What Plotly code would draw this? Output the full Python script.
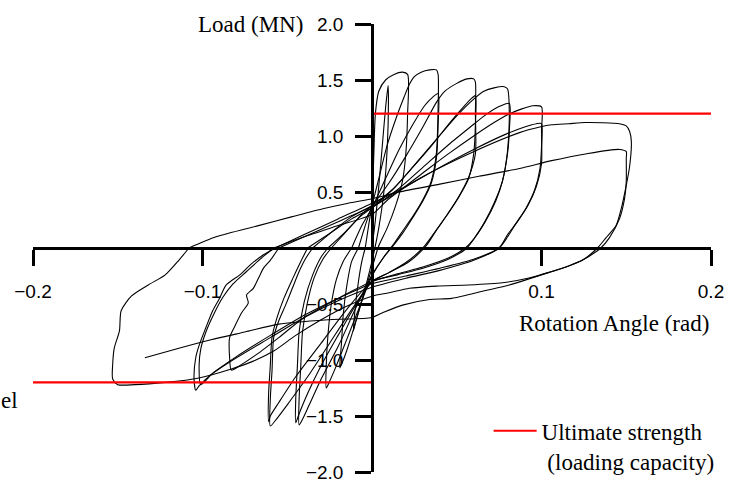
import plotly.graph_objects as go

# ---------------- data ----------------
x_ticks = [-0.2, -0.1, 0.1, 0.2]
x_tick_text = ["\u22120.2", "\u22120.1", "0.1", "0.2"]
y_ticks = [2.0, 1.5, 1.0, 0.5, -0.5, -1.0, -1.5, -2.0]
y_tick_text = ["2.0", "1.5", "1.0", "0.5", "\u22120.5", "\u22121.0", "\u22121.5", "\u22122.0"]

ultimate_pos_rot = [0.0, 0.2]
ultimate_pos_load = [1.2, 1.2]
ultimate_neg_rot = [-0.2, 0.0]
ultimate_neg_load = [-1.2, -1.2]

rot_1 = [0.000, 0.002, 0.004, 0.006, 0.008, 0.0095, 0.0097, 0.009, 0.007, 0.004, 0.001, -0.003, -0.007, -0.010, -0.011, -0.010, -0.008, -0.006, -0.004]
load_1 = [0.00, 0.25, 0.55, 0.90, 1.25, 1.45, 1.30, 0.90, 0.50, 0.18, -0.05, -0.30, -0.52, -0.68, -0.74, -0.55, -0.30, -0.12, 0.00]

rot_2 = [-0.004, -0.002, 0.000, 0.001, 0.002, 0.004, 0.008, 0.013, 0.018, 0.021, 0.021, 0.020, 0.018, 0.014, 0.009, 0.004, 0.000, -0.005, -0.010, -0.015, -0.018, -0.019, -0.018, -0.017, -0.015, -0.012, -0.008]
load_2 = [0.00, 0.20, 0.40, 0.80, 1.20, 1.40, 1.50, 1.55, 1.57, 1.55, 1.20, 0.85, 0.60, 0.38, 0.18, 0.02, -0.18, -0.42, -0.68, -0.92, -1.04, -1.07, -0.85, -0.60, -0.35, -0.12, 0.00]

rot_3 = [-0.008, -0.004, 0.000, 0.004, 0.009, 0.014, 0.019, 0.022, 0.025, 0.029, 0.034, 0.038, 0.039, 0.039, 0.038, 0.035, 0.030, 0.024, 0.018, 0.013, 0.007, 0.000, -0.008, -0.015, -0.021, -0.025, -0.027, -0.027, -0.026, -0.024, -0.021, -0.017, -0.012]
load_3 = [0.00, 0.20, 0.38, 0.62, 0.92, 1.15, 1.35, 1.46, 1.53, 1.57, 1.59, 1.59, 1.55, 1.25, 0.85, 0.60, 0.43, 0.28, 0.15, 0.04, -0.08, -0.25, -0.55, -0.82, -1.05, -1.19, -1.25, -1.05, -0.78, -0.50, -0.28, -0.12, 0.00]

rot_4 = [-0.012, -0.006, 0.000, 0.008, 0.016, 0.024, 0.031, 0.036, 0.039, 0.039, 0.038, 0.035, 0.030, 0.024, 0.018, 0.013, 0.007, 0.000, -0.010, -0.020, -0.030, -0.037, -0.041, -0.043, -0.043, -0.042, -0.041, -0.038, -0.034, -0.029, -0.024]
load_4 = [0.00, 0.20, 0.36, 0.62, 0.88, 1.10, 1.27, 1.35, 1.38, 1.10, 0.80, 0.58, 0.42, 0.27, 0.13, 0.03, -0.08, -0.24, -0.55, -0.88, -1.17, -1.40, -1.53, -1.58, -1.35, -1.05, -0.75, -0.48, -0.26, -0.10, 0.00]

rot_5 = [-0.024, -0.015, -0.006, 0.000, 0.010, 0.020, 0.030, 0.038, 0.043, 0.050, 0.056, 0.060, 0.061, 0.061, 0.061, 0.057, 0.052, 0.045, 0.038, 0.032, 0.022, 0.010, 0.000, -0.010, -0.020, -0.030, -0.038, -0.043, -0.045, -0.045, -0.044, -0.043, -0.040, -0.035, -0.030, -0.026]
load_5 = [0.00, 0.15, 0.30, 0.38, 0.58, 0.82, 1.08, 1.30, 1.40, 1.47, 1.51, 1.51, 1.48, 1.20, 0.84, 0.63, 0.48, 0.31, 0.16, 0.02, -0.12, -0.22, -0.30, -0.52, -0.78, -1.05, -1.30, -1.48, -1.56, -1.35, -1.05, -0.75, -0.48, -0.24, -0.08, 0.00]

rot_6 = [-0.026, -0.016, -0.007, 0.000, 0.012, 0.024, 0.036, 0.046, 0.054, 0.059, 0.061, 0.061, 0.060, 0.057, 0.051, 0.044, 0.037, 0.030, 0.020, 0.010, 0.000, -0.012, -0.025, -0.038, -0.050, -0.057, -0.060, -0.060, -0.059, -0.058, -0.055, -0.051, -0.047, -0.043, -0.039, -0.035]
load_6 = [0.00, 0.14, 0.28, 0.36, 0.52, 0.72, 0.93, 1.12, 1.26, 1.34, 1.36, 1.10, 0.84, 0.62, 0.45, 0.29, 0.14, 0.00, -0.13, -0.22, -0.30, -0.55, -0.85, -1.15, -1.40, -1.54, -1.59, -1.35, -1.10, -0.80, -0.65, -0.51, -0.36, -0.21, -0.09, 0.00]

rot_7 = [-0.035, -0.024, -0.012, 0.000, 0.012, 0.025, 0.038, 0.050, 0.060, 0.066, 0.072, 0.078, 0.080, 0.081, 0.080, 0.077, 0.073, 0.067, 0.061, 0.056, 0.045, 0.030, 0.015, 0.000, -0.015, -0.030, -0.045, -0.055, -0.060, -0.061, -0.061, -0.060, -0.059, -0.056, -0.052, -0.047, -0.042, -0.038]
load_7 = [0.00, 0.14, 0.28, 0.38, 0.52, 0.74, 0.97, 1.18, 1.33, 1.40, 1.43, 1.44, 1.42, 1.20, 0.87, 0.60, 0.42, 0.24, 0.10, 0.00, -0.10, -0.18, -0.24, -0.30, -0.55, -0.85, -1.15, -1.38, -1.50, -1.55, -1.30, -1.05, -0.80, -0.62, -0.45, -0.28, -0.12, 0.00]

rot_8 = [-0.038, -0.025, -0.012, 0.000, 0.015, 0.030, 0.045, 0.058, 0.068, 0.076, 0.081, 0.081, 0.080, 0.077, 0.072, 0.066, 0.060, 0.055, 0.045, 0.030, 0.015, 0.000, -0.020, -0.040, -0.055, -0.068, -0.078, -0.083, -0.084, -0.084, -0.081, -0.077, -0.073, -0.074, -0.070, -0.067, -0.064, -0.060, -0.055]
load_8 = [0.00, 0.13, 0.26, 0.36, 0.52, 0.72, 0.92, 1.08, 1.20, 1.27, 1.29, 1.05, 0.85, 0.60, 0.40, 0.22, 0.08, 0.00, -0.09, -0.17, -0.23, -0.30, -0.45, -0.62, -0.80, -0.95, -1.05, -1.09, -0.98, -0.80, -0.70, -0.58, -0.49, -0.42, -0.36, -0.27, -0.18, -0.11, 0.00]

rot_9 = [-0.055, -0.040, -0.025, -0.012, 0.000, 0.015, 0.030, 0.045, 0.060, 0.072, 0.080, 0.088, 0.095, 0.100, 0.100, 0.100, 0.097, 0.092, 0.086, 0.080, 0.075, 0.060, 0.040, 0.020, 0.000, -0.020, -0.040, -0.060, -0.080, -0.095, -0.102, -0.104, -0.105, -0.104, -0.102, -0.098, -0.094, -0.090, -0.086, -0.078, -0.071, -0.064, -0.057]
load_9 = [0.00, 0.10, 0.20, 0.29, 0.37, 0.50, 0.67, 0.84, 1.00, 1.12, 1.19, 1.24, 1.27, 1.26, 1.05, 0.75, 0.55, 0.38, 0.24, 0.12, 0.00, -0.10, -0.18, -0.25, -0.32, -0.45, -0.60, -0.78, -0.97, -1.13, -1.23, -1.27, -1.16, -0.98, -0.87, -0.71, -0.56, -0.45, -0.33, -0.24, -0.14, -0.06, 0.00]

rot_10 = [-0.057, -0.040, -0.020, 0.000, 0.020, 0.040, 0.060, 0.078, 0.090, 0.097, 0.100, 0.100, 0.099, 0.096, 0.091, 0.085, 0.080, 0.075, 0.060, 0.040, 0.020, 0.000, -0.020, -0.040, -0.060, -0.080, -0.094, -0.101, -0.102, -0.101, -0.098, -0.093, -0.088, -0.082, -0.074, -0.066, -0.058]
load_10 = [0.00, 0.12, 0.26, 0.40, 0.55, 0.72, 0.88, 1.01, 1.08, 1.11, 1.11, 0.90, 0.70, 0.52, 0.36, 0.22, 0.10, 0.00, -0.11, -0.20, -0.27, -0.35, -0.47, -0.62, -0.80, -0.98, -1.12, -1.22, -1.05, -0.90, -0.75, -0.58, -0.44, -0.32, -0.21, -0.10, 0.00]

rot_11 = [-0.058, -0.040, -0.020, 0.000, 0.010, 0.028, 0.057, 0.087, 0.099, 0.106, 0.116, 0.126, 0.146, 0.150, 0.152, 0.153, 0.152, 0.150, 0.147, 0.144, 0.138, 0.133, 0.124, 0.116, 0.104, 0.092, 0.077, 0.057, 0.038, 0.022, 0.010, 0.000, -0.015, -0.030, -0.045, -0.058, -0.070, -0.083, -0.102, -0.122, -0.140, -0.150, -0.153, -0.153, -0.152, -0.149, -0.148, -0.142, -0.132, -0.122, -0.114, -0.108]
load_11 = [0.00, 0.10, 0.20, 0.30, 0.44, 0.62, 0.84, 1.03, 1.08, 1.10, 1.11, 1.12, 1.11, 1.09, 1.04, 0.95, 0.73, 0.56, 0.35, 0.20, 0.09, 0.00, -0.11, -0.16, -0.22, -0.27, -0.31, -0.33, -0.34, -0.36, -0.40, -0.43, -0.52, -0.64, -0.78, -0.92, -1.01, -1.08, -1.16, -1.20, -1.22, -1.22, -1.17, -1.04, -0.89, -0.74, -0.56, -0.43, -0.33, -0.24, -0.11, 0.00]

rot_12 = [-0.108, -0.092, -0.067, -0.047, -0.029, -0.014, 0.000, 0.016, 0.040, 0.063, 0.087, 0.106, 0.126, 0.146, 0.150, 0.150, 0.150, 0.149, 0.146, 0.140, 0.135, 0.124, 0.116, 0.104, 0.081, 0.067, 0.047, 0.034, 0.018, 0.006, 0.000, -0.025, -0.055, -0.075, -0.095, -0.115, -0.134]
load_12 = [0.00, 0.10, 0.20, 0.28, 0.35, 0.40, 0.44, 0.50, 0.57, 0.64, 0.71, 0.78, 0.84, 0.88, 0.86, 0.80, 0.59, 0.44, 0.26, 0.09, 0.00, -0.11, -0.16, -0.22, -0.33, -0.38, -0.45, -0.46, -0.51, -0.58, -0.62, -0.64, -0.68, -0.75, -0.82, -0.90, -0.98]

loops = [
    (rot_1, load_1), (rot_2, load_2), (rot_3, load_3), (rot_4, load_4),
    (rot_5, load_5), (rot_6, load_6), (rot_7, load_7), (rot_8, load_8),
    (rot_9, load_9), (rot_10, load_10), (rot_11, load_11), (rot_12, load_12),
]

# ---------------- figure ----------------
serif = "Liberation Serif, Times New Roman, serif"
sans = "Liberation Sans, Arial, sans-serif"

fig = go.Figure()
for r, l in loops:
    fig.add_trace(go.Scatter(
        x=r, y=l, mode="lines",
        line=dict(color="black", width=1.1, shape="spline", smoothing=0.7),
        showlegend=False, hoverinfo="skip",
    ))

fig.add_trace(go.Scatter(
    x=ultimate_pos_rot, y=ultimate_pos_load, mode="lines",
    line=dict(color="#ff0000", width=2.2),
    name="Ultimate strength<br> (loading capacity)", showlegend=True,
))
fig.add_trace(go.Scatter(
    x=ultimate_neg_rot, y=ultimate_neg_load, mode="lines",
    line=dict(color="#ff0000", width=2.2), showlegend=False,
))

axis_common = dict(
    showgrid=False, zeroline=False, showline=True, linecolor="black",
    linewidth=2.5, ticks="outside", ticklen=16, tickwidth=2.5,
    tickcolor="black", automargin=False, anchor="free", position=0.5,
    ticklabeloverflow="allow",
    tickfont=dict(family=sans, size=19, color="black"),
)

fig.update_layout(
    width=732, height=483, autosize=False,
    margin=dict(l=33, r=21, t=24, b=11, pad=0, autoexpand=False),
    paper_bgcolor="white", plot_bgcolor="white",
    xaxis=dict(range=[-0.2, 0.2], domain=[0, 1], tickvals=x_ticks,
               ticktext=x_tick_text, ticklabelstandoff=9, **axis_common),
    yaxis=dict(range=[-2.0, 2.0], domain=[0, 1], tickvals=y_ticks,
               ticktext=y_tick_text, ticklabelstandoff=8, **axis_common),
    showlegend=True,
    legend=dict(x=0.672, y=0.14, xanchor="left", yanchor="top",
                font=dict(family=serif, size=23, color="black"),
                bgcolor="rgba(0,0,0,0)", valign="top", itemwidth=43),
    annotations=[
        dict(text="Load (MN)", xref="paper", x=0.401, yref="y", y=2.0,
             xanchor="right", yanchor="middle", showarrow=False,
             font=dict(family=serif, size=23, color="black")),
        dict(text="Rotation Angle (rad)", xref="paper", x=1.0, yref="y", y=-0.67,
             xanchor="right", yanchor="middle", showarrow=False,
             font=dict(family=serif, size=23, color="black")),
        dict(text="el", xref="paper", x=-0.0196, yref="y", y=-1.36,
             xanchor="right", yanchor="middle", showarrow=False,
             font=dict(family=serif, size=23, color="black")),
    ],
)

fig.write_html(
    "out.html",
    config={"responsive": False, "displayModeBar": False},
    post_script="document.body.style.margin='0px';document.body.style.overflow='hidden';",
)
